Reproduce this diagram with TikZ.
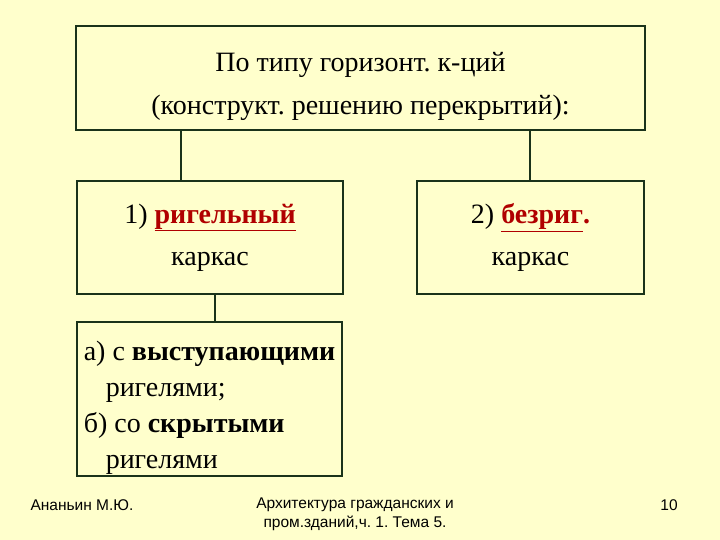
\documentclass[tikz,border=0pt]{standalone}
\usepackage{fontspec}
\setmainfont{Liberation Serif}
\newfontfamily\footfont{Liberation Sans}
\usepackage{xcolor}
\usepackage{tikz}
\usetikzlibrary{positioning}
\definecolor{slidebg}{HTML}{FFFFCC}
\definecolor{boxline}{HTML}{1A331A}
\definecolor{rigred}{HTML}{B00000}
\frenchspacing

\begin{document}
\begin{tikzpicture}[x=1pt, y=-1pt,
    block/.style={rectangle, draw=boxline, line width=1.5pt, fill=slidebg, inner sep=0pt},
    link/.style={draw=boxline, line width=1.5pt},
    foot/.style={font=\footfont\fontsize{15.5}{19}\selectfont, align=center, inner sep=0pt}
]
\fill[slidebg] (0,0) rectangle (720,540);
\useasboundingbox (0,0) rectangle (720,540);

\node[block, minimum width=569pt, minimum height=104pt, align=center, text height=80pt, font=\fontsize{28}{43}\selectfont] (kind) at (360.5,78)
{По типу горизонт. к-ций\\(конструкт. решению перекрытий):};
\node[block, minimum width=266pt, minimum height=113pt, align=center, font=\fontsize{28}{42}\selectfont] (rigel) at (210,237.5)
{1) \textcolor{rigred}{\underline{\textbf{ригельный}}}\\каркас};
\node[block, minimum width=227pt, minimum height=113pt, align=center, font=\fontsize{28}{42}\selectfont] (norigel) at (530.5,237.5)
{2) \textcolor{rigred}{\underline{\textbf{безриг}}\textbf{.}}\\каркас};
\node[block, minimum width=265pt, minimum height=154pt, align=left, text height=145pt, font=\fontsize{28}{36}\selectfont] (types) at (209.5,399)
{а) с \textbf{выступающими}\\\hspace*{22pt}ригелями;\\б) со \textbf{скрытыми}\\\hspace*{22pt}ригелями};

\coordinate (leftx) at (181,0);
\coordinate (rightx) at (530,0);
\coordinate (lowx) at (215,0);
\draw[link] (kind.south -| leftx) -- (rigel.north -| leftx);
\draw[link] (kind.south -| rightx) -- (norigel.north -| rightx);
\draw[link] (rigel.south -| lowx) -- (types.north -| lowx);

\node[foot] (author) at (82,505) {Ананьин М.Ю.};
\node[foot] (course) at (355,514) {Архитектура гражданских и\\пром.зданий,ч. 1. Тема 5.};
\node[foot] (page) at (669,505) {10};
\end{tikzpicture}
\end{document}
